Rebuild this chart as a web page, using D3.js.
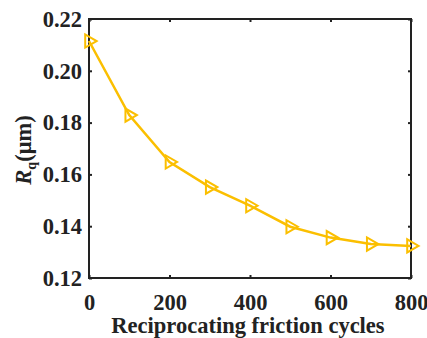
<!DOCTYPE html>
<html>
  <head>
    <meta charset="utf-8">
    <style>
      body { margin: 0; background: #fff; }
      text { font-family: "Liberation Serif", "Times New Roman", serif; font-weight: bold; fill: #222; }
    </style>
  </head>
  <body>
    <svg class='chart'></svg>
    <script src="https://d3js.org/d3.v7.min.js"></script>
    <script>

var cycles = [0, 100, 200, 300, 400, 500, 600, 700, 800]
var rq = [0.2115, 0.1829, 0.1648, 0.1551, 0.1479, 0.1398, 0.1356, 0.1331, 0.1324]
var xTicks = [0, 200, 400, 600, 800]
var yTicks = [0.12, 0.14, 0.16, 0.18, 0.20, 0.22]

var width = 427
var height = 338
var margin = {top: 19, right: 16, bottom: 60, left: 89}

var svg = d3.select(".chart")
    .attr("width", width)
    .attr("height", height);

var x = d3.scaleLinear().domain([0, 800]).range([margin.left, width - margin.right])
var y = d3.scaleLinear().domain([0.12, 0.22]).range([height - margin.bottom, margin.top])

// frame
svg.append("rect")
    .attr("x", x(0))
    .attr("y", y(0.22))
    .attr("width", x(800) - x(0))
    .attr("height", y(0.12) - y(0.22))
    .attr("fill", "none")
    .attr("stroke", "#222")
    .attr("stroke-width", 2);

// bottom / left axes, ticks point inward
var xAxis = svg.append("g")
    .attr("transform", "translate(0," + y(0.12) + ")")
    .call(d3.axisBottom(x).tickValues(xTicks).tickSize(-3).tickPadding(16).tickFormat(d3.format("d")))
var yAxis = svg.append("g")
    .attr("transform", "translate(" + x(0) + ",0)")
    .call(d3.axisLeft(y).tickValues(yTicks).tickSize(-3).tickPadding(7).tickFormat(d3.format(".2f")))

// top / right ticks, no labels
svg.append("g")
    .attr("transform", "translate(0," + y(0.22) + ")")
    .call(d3.axisTop(x).tickValues(xTicks).tickSize(-3).tickFormat(""))
svg.append("g")
    .attr("transform", "translate(" + x(800) + ",0)")
    .call(d3.axisRight(y).tickValues(yTicks).tickSize(-3).tickFormat(""))

svg.selectAll(".domain").remove()
svg.selectAll(".tick line").attr("stroke", "#222").attr("stroke-width", 2)
svg.selectAll(".tick text").attr("font-size", 22.5).attr("font-family", null).attr("fill", "#222")

// line
var color = "#FBBF00"
var line = d3.line()
    .x(function(d, i) { return x(cycles[i]); })
    .y(function(d) { return y(d); })

svg.append("path")
    .datum(rq)
    .attr("fill", "none")
    .attr("stroke", color)
    .attr("stroke-width", 2.5)
    .attr("d", line);

// right-pointing open triangles
var tri = d3.symbol().type(d3.symbolTriangle).size(75)
svg.append("g").selectAll("path")
    .data(rq)
    .enter().append("path")
    .attr("d", tri)
    .attr("transform", function(d, i) { return "translate(" + x(cycles[i]) + "," + y(d) + ")rotate(90)"; })
    .attr("fill", "none")
    .attr("stroke", color)
    .attr("stroke-width", 2);

// axis titles
svg.append("text")
    .attr("x", (x(0) + x(800)) / 2 - 2)
    .attr("y", 333)
    .attr("text-anchor", "middle")
    .attr("font-size", 22.5)
    .text("Reciprocating friction cycles");

var yl = svg.append("text")
    .attr("transform", "translate(31,150)rotate(-90)")
    .attr("text-anchor", "middle")
    .attr("font-size", 22.5)
yl.append("tspan").attr("font-style", "italic").text("R")
yl.append("tspan").attr("font-size", 14).attr("dy", 5).text("q")
yl.append("tspan").attr("dy", -5).text("(\u03bcm)")

    </script>
  </body>
</html>
